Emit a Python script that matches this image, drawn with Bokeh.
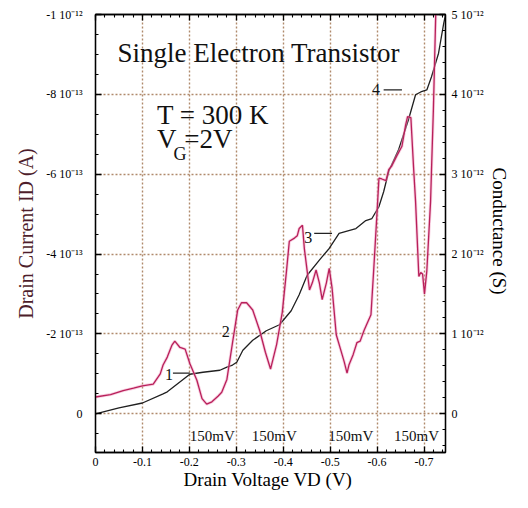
from bokeh.plotting import figure
from bokeh.models import Range1d, LinearAxis, FixedTicker, CustomJSTickFormatter
from bokeh.core.properties import value
from bokeh.embed import file_html
from bokeh.resources import INLINE

# ---------------- data ----------------
# drain current (units of 1e-13 A) vs drain voltage (V)
vd_current = [0.000, -0.050, -0.100, -0.144, -0.153, -0.201, -0.229, -0.265, -0.280, -0.292,
              -0.301, -0.314, -0.335, -0.364, -0.392, -0.417, -0.434, -0.451, -0.477, -0.498,
              -0.519, -0.534, -0.555, -0.576, -0.589, -0.604, -0.614, -0.625, -0.646, -0.667,
              -0.682, -0.693, -0.706, -0.716, -0.731, -0.742, -0.746]
current = [0.00, -0.15, -0.27, -0.50, -0.55, -0.99, -1.04, -1.09, -1.17, -1.22,
           -1.29, -1.59, -1.84, -2.08, -2.23, -2.58, -2.98, -3.47, -3.85, -4.14,
           -4.52, -4.57, -4.64, -4.84, -4.89, -5.19, -5.56, -6.08, -6.62, -7.37,
           -7.99, -8.06, -8.11, -8.44, -9.03, -9.78, -10.0]

# conductance (units of 1e-12 S) vs drain voltage (V)
vd_cond = [0.000, -0.032, -0.059, -0.081, -0.100, -0.123, -0.138, -0.144, -0.153, -0.163,
           -0.169, -0.180, -0.191, -0.201, -0.216, -0.227, -0.237, -0.248, -0.261, -0.269,
           -0.280, -0.292, -0.303, -0.311, -0.322, -0.335, -0.350, -0.362, -0.373, -0.386,
           -0.398, -0.407, -0.413, -0.424, -0.430, -0.434, -0.441, -0.445, -0.451, -0.456,
           -0.462, -0.470, -0.477, -0.483, -0.492, -0.498, -0.504, -0.513, -0.523, -0.530,
           -0.536, -0.540, -0.549, -0.557, -0.564, -0.572, -0.578, -0.587, -0.593, -0.600,
           -0.604, -0.610, -0.619, -0.625, -0.631, -0.642, -0.653, -0.661, -0.665, -0.672,
           -0.678, -0.682, -0.689, -0.693, -0.697, -0.701, -0.706, -0.714, -0.716, -0.720,
           -0.725, -0.728]
conductance = [0.21, 0.24, 0.29, 0.32, 0.35, 0.37, 0.50, 0.61, 0.71, 0.86,
               0.91, 0.83, 0.81, 0.63, 0.42, 0.19, 0.12, 0.15, 0.22, 0.27,
               0.43, 0.89, 1.30, 1.39, 1.39, 1.30, 1.04, 0.77, 0.56, 0.87,
               1.27, 1.79, 2.16, 2.20, 2.23, 2.32, 2.36, 2.07, 1.79, 1.55,
               1.64, 1.80, 1.64, 1.43, 1.64, 1.82, 1.58, 0.99, 0.79, 0.65,
               0.51, 0.61, 0.74, 0.89, 0.91, 1.04, 1.12, 1.24, 1.82, 2.53,
               2.95, 2.94, 2.92, 3.06, 3.10, 3.23, 3.35, 3.62, 3.72, 3.71,
               3.06, 2.66, 1.72, 1.77, 1.75, 1.50, 1.79, 2.66, 3.06, 3.81,
               5.00, 5.30]

x_ticks = [0, -0.1, -0.2, -0.3, -0.4, -0.5, -0.6, -0.7]
x_tick_labels = ["0", "-0.1", "-0.2", "-0.3", "-0.4", "-0.5", "-0.6", "-0.7"]
left_ticks = [0, -2, -4, -6, -8, -10]
left_tick_labels = ["0", "-2 10\u207b\u00b9\u00b3", "-4 10\u207b\u00b9\u00b3", "-6 10\u207b\u00b9\u00b3",
                    "-8 10\u207b\u00b9\u00b3", "-1 10\u207b\u00b9\u00b2"]
right_ticks = [0, 1, 2, 3, 4, 5]
right_tick_labels = ["0", "1 10\u207b\u00b9\u00b2", "2 10\u207b\u00b9\u00b2", "3 10\u207b\u00b9\u00b2",
                     "4 10\u207b\u00b9\u00b2", "5 10\u207b\u00b9\u00b2"]

# peak annotations (label, VD, current position)
peak_labels = ["1", "2", "3", "4"]
peak_x = [-0.148, -0.269, -0.445, -0.589]
peak_y = [-0.99, -2.06, -4.42, -8.11]
dash_x0 = [-0.165, -0.466, -0.614]
dash_x1 = [-0.201, -0.504, -0.653]
dash_y = [-1.02, -4.52, -8.11]

mv_labels = ["150mV", "150mV", "150mV", "150mV"]
mv_x = [-0.201, -0.333, -0.496, -0.636]
mv_y = [0.55, 0.55, 0.55, 0.55]

SERIF = "Liberation Serif"

# ---------------- figure ----------------
p = figure(width=512, height=492, output_backend="svg", toolbar_location=None,
           x_range=Range1d(0, -0.7458), y_range=Range1d(0.97, -10.0),
           min_border_left=95, min_border_right=67, min_border_top=14, min_border_bottom=38,
           background_fill_color="white", border_fill_color="white")
p.extra_y_ranges = {"g": Range1d(-0.485, 5.0)}
p.outline_line_color = "black"
p.outline_line_width = 1.3

def style_axis(ax):
    ax.axis_line_color = "black"
    ax.axis_line_width = 1.3
    ax.major_tick_in = 6
    ax.major_tick_out = 0
    ax.minor_tick_in = 3
    ax.minor_tick_out = 0
    ax.major_tick_line_color = "black"
    ax.minor_tick_line_color = "black"
    ax.major_tick_line_width = 1.3
    ax.minor_tick_line_width = 1.1
    ax.major_label_text_font = SERIF
    ax.major_label_text_font_size = "12px"
    ax.major_label_text_color = "black"
    ax.axis_label_text_font = SERIF
    ax.axis_label_text_font_size = "20px"
    ax.axis_label_text_font_style = "normal"

xminor = [-0.02 * k for k in range(0, 38)]
xa = p.xaxis[0]
xa.ticker = FixedTicker(ticks=x_ticks, minor_ticks=xminor)
xa.major_label_overrides = {t: s for t, s in zip(x_ticks, x_tick_labels)}
xa.axis_label = "Drain Voltage  VD (V)"
style_axis(xa)
xa.major_label_standoff = 5
xa.axis_label_standoff = 0
xa.axis_label_text_font_size = "19px"
xa.axis_label_text_color = "black"

ya = p.yaxis[0]
ya.ticker = FixedTicker(ticks=left_ticks, minor_ticks=[0.5 - 0.5 * k for k in range(0, 22)])
ya.major_label_overrides = {t: s for t, s in zip(left_ticks, left_tick_labels)}
ya.axis_label = "Drain Current ID (A)"
style_axis(ya)
ya.major_label_standoff = 13
ya.axis_label_standoff = 6
ya.axis_label_text_color = "#4e1e2c"

ra = LinearAxis(y_range_name="g")
ra.ticker = FixedTicker(ticks=right_ticks, minor_ticks=[-0.4 + 0.2 * k for k in range(0, 28)])
ra.major_label_overrides = {t: s for t, s in zip(right_ticks, right_tick_labels)}
ra.axis_label = "Conductance  (S)"
style_axis(ra)
ra.major_label_standoff = 6
ra.axis_label_standoff = 2
ra.axis_label_text_font_size = "19px"
ra.axis_label_text_color = "black"
p.add_layout(ra, "right")

ta = LinearAxis()
ta.ticker = FixedTicker(ticks=x_ticks, minor_ticks=xminor)
ta.formatter = CustomJSTickFormatter(code="return ''")
style_axis(ta)
ta.major_label_text_font_size = "1px"
ta.major_label_standoff = 0
p.add_layout(ta, "above")

for g in (p.xgrid[0], p.ygrid[0]):
    g.grid_line_color = "#b08a6c"
    g.grid_line_width = 1.4
    g.grid_line_dash = "2 2"
p.xgrid[0].ticker = FixedTicker(ticks=x_ticks)
p.ygrid[0].ticker = FixedTicker(ticks=left_ticks)

# curves
p.line(vd_current, current, line_color="#202020", line_width=1.3)
p.line(vd_cond, conductance, y_range_name="g", line_color="#f2a0c4", line_width=3.0, line_alpha=0.5)
p.line(vd_cond, conductance, y_range_name="g", line_color="#b8205a", line_width=1.3)

# texts
p.text(x=[-0.047], y=[-9.03], text=["Single Electron Transistor"], text_font=value(SERIF),
       text_font_size="27px", text_baseline="alphabetic", text_align="left", text_color="#111111")
p.text(x=[-0.131], y=[-7.49], text=["T = 300 K"], text_font=value(SERIF),
       text_font_size="27px", text_baseline="alphabetic", text_align="left", text_color="#111111")
p.text(x=[-0.131], y=[-6.87], text=["V"], text_font=value(SERIF),
       text_font_size="27px", text_baseline="alphabetic", text_align="left", text_color="#111111")
p.text(x=[-0.166], y=[-6.50], text=["G"], text_font=value(SERIF),
       text_font_size="18px", text_baseline="alphabetic", text_align="left", text_color="#111111")
p.text(x=[-0.189], y=[-6.87], text=["=2V"], text_font=value(SERIF),
       text_font_size="27px", text_baseline="alphabetic", text_align="left", text_color="#111111")

p.text(x=peak_x, y=peak_y, text=peak_labels, text_font=value(SERIF), text_font_size="16px",
       text_baseline="alphabetic", text_align="left", text_color="#111111")
p.segment(x0=dash_x0, y0=dash_y, x1=dash_x1, y1=dash_y, line_color="#222222", line_width=1.2)
p.text(x=mv_x, y=mv_y, text=mv_labels, text_font=value(SERIF), text_font_size="15px",
       text_baseline="alphabetic", text_align="left", text_color="#111111")

open("out.html", "w").write(file_html(p, INLINE))
